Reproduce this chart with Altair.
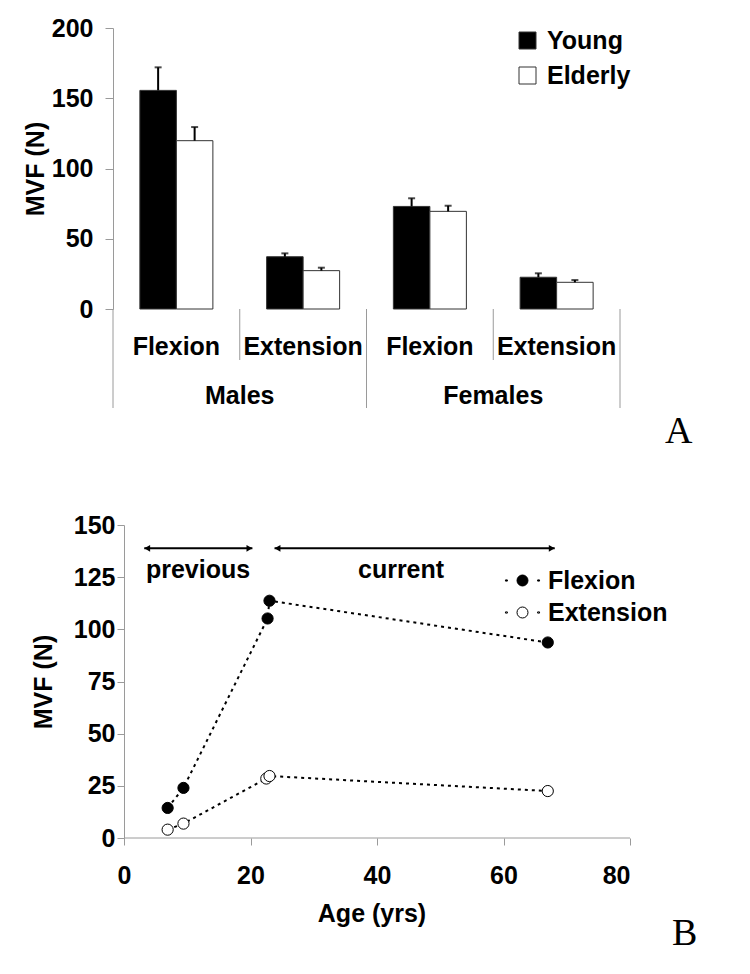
import altair as alt
import pandas as pd

# ---------------- Panel A data ----------------
cat_keys = ["M-Flexion", "M-Extension", "F-Flexion", "F-Extension"]
cat_labels = ["Flexion", "Extension", "Flexion", "Extension"]
sex_keys = ["M-Extension", "F-Extension"]
sex_labels = ["Males", "Females"]
groups = ["Young", "Elderly"]
young_mean = [155.6, 37.2, 73.0, 22.6]
young_upper = [172.0, 39.6, 78.8, 25.4]
elderly_mean = [119.8, 27.3, 69.5, 19.0]
elderly_upper = [129.5, 29.4, 73.5, 20.6]
long_div = ["M-Flexion", "F-Flexion"]
short_div = ["M-Extension", "F-Extension"]
end_div = ["F-Extension"]

# ---------------- Panel B data ----------------
series = ["Flexion", "Extension"]
flex_age = [6.9, 9.4, 22.7, 23.0, 67.0]
flex_mvf = [14.4, 24.0, 105.2, 113.7, 93.7]
ext_age = [6.9, 9.4, 22.5, 23.0, 67.0]
ext_mvf = [4.0, 6.9, 28.5, 29.7, 22.5]
arrow_start = [3.2, 23.8]
arrow_end = [20.3, 68.1]
arrow_y = [138.8, 138.8]
arrow_text = ["previous", "current"]
arrow_text_x = [11.7, 43.8]
arrow_text_y = [128.4, 128.4]

FONT = "Liberation Sans"
SERIF = "Liberation Serif"
GRAY = "#9a9a9a"
FS = 25

# ---------------- Panel A ----------------
rows = []
for i, c in enumerate(cat_keys):
    rows.append({"cat": c, "group": "Young", "mean": young_mean[i], "upper": young_upper[i]})
    rows.append({"cat": c, "group": "Elderly", "mean": elderly_mean[i], "upper": elderly_upper[i]})
bar_df = pd.DataFrame(rows)

W_A, H_A = 507, 281
xscaleA = alt.Scale(domain=cat_keys, paddingInner=0, paddingOuter=0)
xA = alt.X("cat:N", sort=cat_keys, scale=xscaleA,
           axis=alt.Axis(labels=False, ticks=False, title=None, domain=True,
                         domainColor=GRAY, domainWidth=1))
xoff = alt.XOffset("group:N", sort=groups,
                   scale=alt.Scale(domain=groups, paddingInner=0, paddingOuter=0.736))
yA = alt.Y("mean:Q", scale=alt.Scale(domain=[0, 200], nice=False),
           axis=alt.Axis(values=[0, 50, 100, 150, 200], title="MVF (N)", grid=False,
                         tickSize=8, labelPadding=12, titlePadding=3,
                         domainColor=GRAY, tickColor=GRAY))

bars = alt.Chart(bar_df).mark_bar(stroke="#333333", strokeWidth=1).encode(
    x=xA, xOffset=xoff, y=yA,
    fill=alt.Fill("group:N", sort=groups,
                  scale=alt.Scale(domain=groups, range=["black", "white"]),
                  legend=alt.Legend(title=None, orient="none", legendX=402, legendY=0,
                                    symbolType="square", symbolSize=289,
                                    symbolStrokeColor="#333333", symbolStrokeWidth=1,
                                    labelFont=FONT, labelFontSize=FS, labelFontWeight="bold",
                                    labelColor="black", labelOffset=7, rowPadding=9,
                                    padding=0)),
)
err = alt.Chart(bar_df).mark_rule(color="black", strokeWidth=2).encode(
    x=xA, xOffset=xoff, y="mean:Q", y2="upper:Q")
caps = alt.Chart(bar_df).mark_tick(color="black", thickness=2, size=7).encode(
    x=xA, xOffset=xoff, y="upper:Q")

xdiv0 = alt.X("cat:N", scale=xscaleA, bandPosition=0, axis=None)
xdiv1 = alt.X("cat:N", scale=xscaleA, bandPosition=1, axis=None)
div_long = alt.Chart(pd.DataFrame({"cat": long_div})).mark_rule(color=GRAY, strokeWidth=1).encode(
    x=xdiv0, y=alt.value(H_A), y2=alt.value(H_A + 99))
div_end = alt.Chart(pd.DataFrame({"cat": end_div})).mark_rule(color=GRAY, strokeWidth=1).encode(
    x=xdiv1, y=alt.value(H_A), y2=alt.value(H_A + 99))
div_short = alt.Chart(pd.DataFrame({"cat": short_div})).mark_rule(color=GRAY, strokeWidth=1).encode(
    x=xdiv0, y=alt.value(H_A), y2=alt.value(H_A + 51))

sub_text = alt.Chart(pd.DataFrame({"cat": cat_keys, "label": cat_labels})).mark_text(
    font=FONT, fontSize=FS, fontWeight="bold", color="black", baseline="middle", align="center"
).encode(x=alt.X("cat:N", scale=xscaleA, axis=None), y=alt.value(H_A + 38), text="label:N")
sex_text = alt.Chart(pd.DataFrame({"cat": sex_keys, "label": sex_labels})).mark_text(
    font=FONT, fontSize=FS, fontWeight="bold", color="black", baseline="middle", align="center"
).encode(x=xdiv0, y=alt.value(H_A + 87), text="label:N")
tagA = alt.Chart(pd.DataFrame({"t": ["A"]})).mark_text(
    font=SERIF, fontSize=38, color="black", align="left", baseline="alphabetic"
).encode(x=alt.value(552), y=alt.value(415), text="t:N")

panelA = alt.layer(bars, err, caps, div_long, div_end, div_short, sub_text, sex_text, tagA).properties(
    width=W_A, height=H_A)

# ---------------- Panel B ----------------
pts = []
for a, m in zip(flex_age, flex_mvf):
    pts.append({"series": "Flexion", "age": a, "mvf": m})
for a, m in zip(ext_age, ext_mvf):
    pts.append({"series": "Extension", "age": a, "mvf": m})
pts_df = pd.DataFrame(pts)

W_B, H_B = 517, 313
xscaleB = alt.Scale(domain=[-1.74, 80], nice=False, zero=False)
yscaleB = alt.Scale(domain=[0, 150], nice=False)
xB = alt.X("age:Q", scale=xscaleB,
           axis=alt.Axis(values=[0, 20, 40, 60, 80], domain=False, grid=False, title="Age (yrs)",
                         tickSize=7, tickColor=GRAY, labelPadding=18, titlePadding=13))
yB = alt.Y("mvf:Q", scale=yscaleB,
           axis=alt.Axis(values=[0, 25, 50, 75, 100, 125, 150], title="MVF (N)", grid=False,
                         offset=-11, tickSize=7, labelPadding=2, titlePadding=17,
                         domainColor=GRAY, tickColor=GRAY))

LEG_PATH = ("M0.458,0A0.458,0.458,0,1,1,-0.458,0A0.458,0.458,0,1,1,0.458,0Z"
            "M-1.42,-0.05h0.16v0.1h-0.16Z M1.26,-0.05h0.16v0.1h-0.16Z")

lines = alt.Chart(pts_df).mark_line(color="black", strokeWidth=2, strokeDash=[3, 4]).encode(
    x=xB, y=yB, detail="series:N", order="age:Q")
points = alt.Chart(pts_df).mark_point(filled=True, shape="circle", size=125, stroke="black",
                                      strokeWidth=1, opacity=1).encode(
    x=xB, y=yB,
    fill=alt.Fill("series:N", sort=series,
                  scale=alt.Scale(domain=series, range=["black", "white"]),
                  legend=alt.Legend(title=None, orient="none", legendX=397, legendY=43,
                                    symbolType=LEG_PATH, symbolSize=576,
                                    symbolStrokeColor="black", symbolStrokeWidth=1,
                                    labelFont=FONT, labelFontSize=FS, labelFontWeight="bold",
                                    labelColor="black", labelOffset=13, rowPadding=6,
                                    padding=0)),
)

base_df = pd.DataFrame({"age": [0], "age2": [80], "mvf": [0]})
x_base = alt.Chart(base_df).mark_rule(color=GRAY, strokeWidth=1).encode(
    x=alt.X("age:Q", scale=xscaleB), x2="age2:Q", y=alt.Y("mvf:Q", scale=yscaleB))

arr_df = pd.DataFrame({"age": arrow_start, "age2": arrow_end, "mvf": arrow_y})
arr = alt.Chart(arr_df).mark_rule(color="black", strokeWidth=2).encode(
    x=alt.X("age:Q", scale=xscaleB), x2="age2:Q", y=alt.Y("mvf:Q", scale=yscaleB))
head_l = alt.Chart(arr_df).mark_point(shape="triangle-left", filled=True, size=45, color="black",
                                      opacity=1, xOffset=3).encode(
    x=alt.X("age:Q", scale=xscaleB), y=alt.Y("mvf:Q", scale=yscaleB))
head_r = alt.Chart(arr_df).mark_point(shape="triangle-right", filled=True, size=45, color="black",
                                      opacity=1, xOffset=-3).encode(
    x=alt.X("age2:Q", scale=xscaleB), y=alt.Y("mvf:Q", scale=yscaleB))
arr_lbl = alt.Chart(pd.DataFrame({"age": arrow_text_x, "mvf": arrow_text_y, "t": arrow_text})).mark_text(
    font=FONT, fontSize=FS, fontWeight="bold", color="black", align="center", baseline="middle"
).encode(x=alt.X("age:Q", scale=xscaleB), y=alt.Y("mvf:Q", scale=yscaleB), text="t:N")
tagB = alt.Chart(pd.DataFrame({"t": ["B"]})).mark_text(
    font=SERIF, fontSize=38, color="black", align="left", baseline="alphabetic"
).encode(x=alt.value(559), y=alt.value(420), text="t:N")

panelB = alt.layer(x_base, lines, points, arr, head_l, head_r, arr_lbl, tagB).properties(
    width=W_B, height=H_B)

chart = alt.vconcat(panelA, panelB, spacing=216, bounds="flush").resolve_scale(
    fill="independent").resolve_legend(fill="independent").properties(
    padding={"left": 15, "top": 8, "right": 5, "bottom": 5}
).configure_view(stroke=None).configure_axis(
    labelFont=FONT, labelFontSize=FS, labelFontWeight="bold", labelColor="black",
    titleFont=FONT, titleFontSize=FS, titleFontWeight="bold", titleColor="black",
    domainColor=GRAY, tickColor=GRAY
)

chart.save("out.html", embed_options={"renderer": "svg", "actions": False})
